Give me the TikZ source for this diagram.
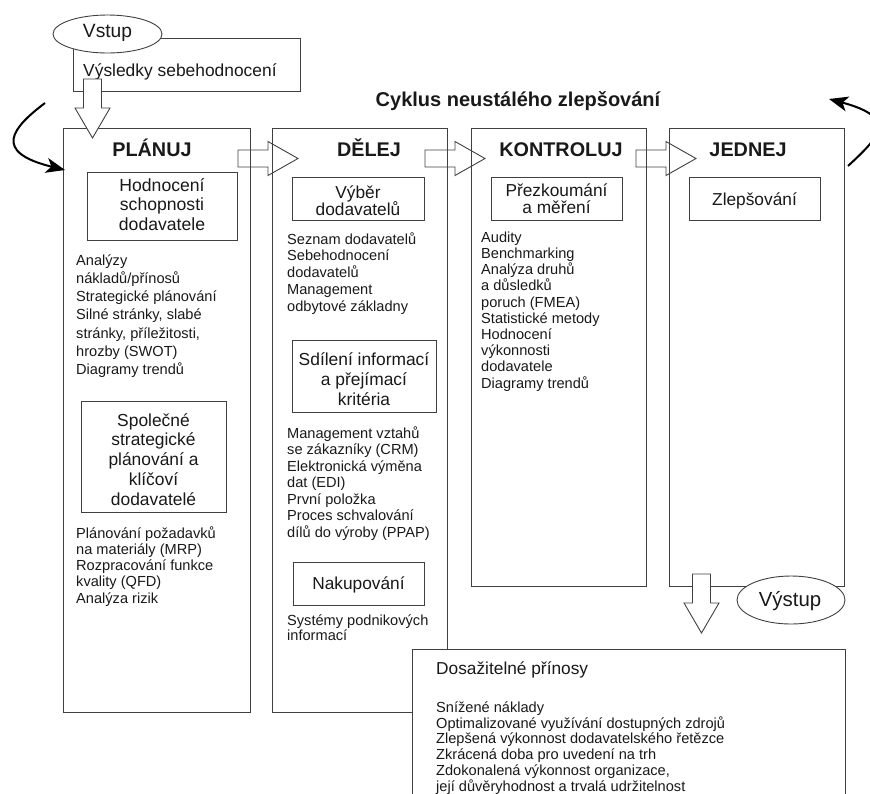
\documentclass[tikz,border=0pt]{standalone}
\usepackage{fontspec}
\setmainfont{Liberation Sans}
\usetikzlibrary{arrows.meta,calc,shapes.geometric}

\definecolor{edge}{gray}{0.25}
\definecolor{ink}{gray}{0.1}

% font size + fixed line spacing
\newcommand\fsz[2]{\fontsize{#1}{#2}\selectfont\lineskiplimit=-100pt\relax}

\tikzset{
  colbox/.style={draw=edge, line width=0.9pt, rectangle, inner sep=0pt},
  subbox/.style={draw=edge, line width=0.9pt, rectangle, inner sep=0pt, fill=white},
  oval/.style={draw=edge, line width=0.9pt, ellipse, inner sep=0pt, fill=white},
  txt/.style={inner sep=0pt, text=ink, anchor=base},
  ltxt/.style={inner sep=0pt, text=ink, anchor=base west},
  blockarrow/.style={draw=edge, line width=0.9pt, line join=miter},
  loopline/.style={draw=black, line width=2pt, -{Stealth[length=19pt,width=15pt,inset=5pt]}},
  pics/rblock/.style={code={
    \draw[blockarrow] (0,-8.5) -- (30,-8.5) -- (30,-17) -- (60,0) -- (30,17) -- (30,8.5) -- (0,8.5) -- cycle;}},
  pics/dblock/.style={code={
    \filldraw[blockarrow, fill=white] (-9,0) -- (-9,29) -- (-17.5,29) -- (0,59) -- (17.5,29) -- (9,29) -- (9,0) -- cycle;}},
}

\begin{document}
\begin{tikzpicture}[x=1pt,y=-1pt]
\useasboundingbox (0,0) rectangle (870,793);
\clip (0,0) rectangle (870,793);

% the four phase columns
\node[colbox, minimum width=187pt, minimum height=584pt] (plan) at (156.5,420) {};
\node[colbox, minimum width=175pt, minimum height=584pt] (delej) at (359.5,420) {};
\node[colbox, minimum width=175pt, minimum height=458pt] (kontr) at (558.5,357) {};
\node[colbox, minimum width=175pt, minimum height=458pt] (jedn) at (756.5,357) {};

% block arrows between the phases
\coordinate (a1) at (238,158.5);
\coordinate (a2) at (425,158.5);
\coordinate (a3) at (636,158.5);
\pic at (a1) {rblock};
\pic at (a2) {rblock};
\pic at (a3) {rblock};

% phase titles
\node[txt, font=\bfseries\fsz{19.8}{22}] (planT) at (152,156) {PLÁNUJ};
\node[txt, font=\bfseries\fsz{19.8}{22}] (delejT) at (369,156) {DĚLEJ};
\node[txt, font=\bfseries\fsz{19.8}{22}] (kontrT) at (561,156) {KONTROLUJ};
\node[txt, font=\bfseries\fsz{19.8}{22}] (jednT) at (748,156) {JEDNEJ};

% overall title
\node[txt, font=\bfseries\fsz{20}{22}] (cyk) at (518,106) {Cyklus neustálého zlepšování};

% PLÁNUJ column
\node[subbox, minimum width=150pt, minimum height=68pt] (hod) at (162,206) {};
\node[txt] (hodT) at (162,191.3) {\parbox[t]{150pt}{\centering\fsz{17.6}{19.5}Hodnocení\\schopnosti\\dodavatele}};
\node[ltxt] (l1) at (76,265.2) {\parbox[t]{170pt}{\raggedright\fsz{14.6}{18.2}Analýzy\\nákladů/přínosů\\Strategické plánování\\Silné stránky, slabé\\stránky, příležitosti,\\hrozby (SWOT)\\Diagramy trendů}};
\node[subbox, minimum width=145pt, minimum height=111pt] (spol) at (153.5,456.5) {};
\node[txt] (spolT) at (153.5,426.2) {\parbox[t]{145pt}{\centering\fsz{17.4}{19.7}Společné\\strategické\\plánování a\\klíčoví\\dodavatelé}};
\node[ltxt] (l2) at (76,538.2) {\parbox[t]{170pt}{\raggedright\fsz{14.6}{16.2}Plánování požadavků\\na materiály (MRP)\\Rozpracování funkce\\kvality (QFD)\\Analýza rizik}};

% DĚLEJ column
\node[subbox, minimum width=132pt, minimum height=43pt] (vyb) at (358,198.5) {};
\node[txt] (vybT) at (358,198.2) {\parbox[t]{132pt}{\centering\fsz{17.3}{17.7}Výběr\\dodavatelů}};
\node[ltxt] (l3) at (287,244.2) {\parbox[t]{160pt}{\raggedright\fsz{14.6}{16.7}Seznam dodavatelů\\Sebehodnocení\\dodavatelů\\Management\\odbytové základny}};
\node[subbox, minimum width=144pt, minimum height=72pt] (sdil) at (364,376) {};
\node[txt] (sdilT) at (364,365.2) {\parbox[t]{144pt}{\centering\fsz{17.4}{20}Sdílení informací\\a přejímací\\kritéria}};
\node[ltxt] (l4) at (287,438.2) {\parbox[t]{160pt}{\raggedright\fsz{14.6}{16.5}Management vztahů\\se zákazníky (CRM)\\Elektronická výměna\\dat (EDI)\\První položka\\Proces schvalování\\dílů do výroby (PPAP)}};
\node[subbox, minimum width=131pt, minimum height=43pt] (nak) at (358.5,583.5) {};
\node[txt, font=\fsz{17.3}{20}] (nakT) at (358.5,589.3) {Nakupování};
\node[ltxt] (l5) at (287,625.2) {\parbox[t]{160pt}{\raggedright\fsz{14.6}{15.5}Systémy podnikových\\informací}};

% KONTROLUJ column
\node[subbox, minimum width=131pt, minimum height=43pt] (prez) at (556.5,198.5) {};
\node[txt] (prezT) at (556.5,196.2) {\parbox[t]{131pt}{\centering\fsz{17.3}{17}Přezkoumání\\a měření}};
\node[ltxt] (l6) at (481,242.2) {\parbox[t]{160pt}{\raggedright\fsz{14.6}{16.2}Audity\\Benchmarking\\Analýza druhů\\a důsledků\\poruch (FMEA)\\Statistické metody\\Hodnocení\\výkonnosti\\dodavatele\\Diagramy trendů}};

% JEDNEJ column
\node[subbox, minimum width=131pt, minimum height=43pt] (zlep) at (754.5,198.5) {};
\node[txt, font=\fsz{17.3}{20}] (zlepT) at (754.5,205.5) {Zlepšování};

% input
\node[colbox, minimum width=227pt, minimum height=53pt] (inbox) at (186.5,64.5) {};
\node[ltxt, font=\fsz{17.4}{20}] (inT) at (83,76.3) {Výsledky sebehodnocení};
\coordinate (din) at (92.5,79);
\pic at (din) {dblock};
\node[oval, minimum width=109pt, minimum height=38pt] (vstup) at (107.5,34) {};
\node[txt, font=\fsz{19.2}{22}] (vstupT) at (107.5,37) {Vstup};

% output
\coordinate (dout) at (701.5,574);
\pic at (dout) {dblock};
\node[oval, minimum width=108pt, minimum height=48pt] (vystup) at (791,600) {};
\node[txt, font=\fsz{20.4}{22}] (vystupT) at (790,606.3) {Výstup};

% achievable benefits
\node[subbox, minimum width=433pt, minimum height=160pt] (dos) at (628.5,729) {};
\node[ltxt, font=\fsz{17.3}{20}] (dosT) at (436,674.2) {Dosažitelné přínosy};
\node[ltxt] (l7) at (436,712.2) {\parbox[t]{420pt}{\raggedright\fsz{14.6}{15.8}Snížené náklady\\Optimalizované využívání dostupných zdrojů\\Zlepšená výkonnost dodavatelského řetězce\\Zkrácená doba pro uvedení na trh\\Zdokonalená výkonnost organizace,\\její důvěryhodnost a trvalá udržitelnost}};

% cycle arrows
\coordinate (cl0) at (45,103);
\coordinate (cl1) at (65,170);
\coordinate (cr0) at (848,166);
\coordinate (cr1) at (829,99);
\draw[loopline] (cl0) .. controls (12,128) and (-8,152) .. (cl1);
\draw[loopline] (cr0) .. controls (878,138) and (900,118) .. (cr1);
\end{tikzpicture}
\end{document}
